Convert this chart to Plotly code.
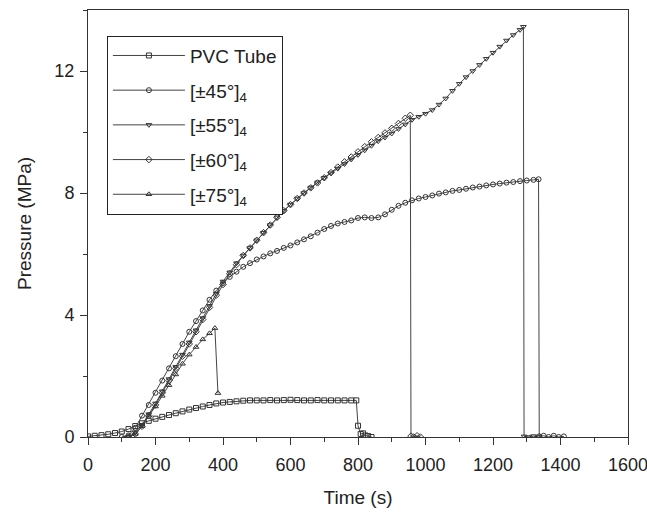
import plotly.graph_objects as go

# ---- data ----
pvc_t = [0, 20, 40, 60, 80, 100, 120, 140, 160, 180, 200, 220, 240, 260, 280, 300, 320, 340, 360, 380,
         400, 420, 440, 460, 480, 500, 520, 540, 560, 580, 600, 620, 640, 660, 680, 700, 720, 740, 760,
         780, 795, 800, 808, 815, 822, 830, 840]
pvc_p = [0.02, 0.04, 0.06, 0.09, 0.13, 0.18, 0.26, 0.36, 0.45, 0.53, 0.60, 0.66, 0.72, 0.78, 0.84, 0.90,
         0.95, 1.00, 1.05, 1.10, 1.13, 1.15, 1.17, 1.19, 1.20, 1.20, 1.20, 1.21, 1.20, 1.21, 1.22, 1.21,
         1.20, 1.20, 1.21, 1.20, 1.20, 1.20, 1.20, 1.20, 1.20, 0.37, 0.10, 0.12, 0.05, 0.03, 0.0]

p45_t = [100, 120, 140, 160, 180, 200, 220, 240, 260, 280, 300, 320, 340, 360, 380, 400, 420, 440, 460,
         480, 500, 520, 540, 560, 580, 600, 620, 640, 660, 680, 700, 720, 740, 760, 780, 800, 820, 840,
         860, 880, 900, 920, 940, 960, 980, 1000, 1020, 1040, 1060, 1080, 1100, 1120, 1140, 1160, 1180,
         1200, 1220, 1240, 1260, 1280, 1300, 1320, 1335, 1337, 1350, 1365, 1380, 1395, 1410]
p45_p = [0.0, 0.05, 0.30, 0.70, 1.05, 1.45, 1.85, 2.25, 2.65, 3.05, 3.45, 3.80, 4.15, 4.50, 4.80, 5.05,
         5.25, 5.42, 5.58, 5.70, 5.82, 5.92, 6.02, 6.10, 6.20, 6.28, 6.38, 6.48, 6.58, 6.70, 6.82, 6.92,
         7.00, 7.05, 7.10, 7.18, 7.20, 7.18, 7.20, 7.30, 7.45, 7.58, 7.68, 7.76, 7.82, 7.87, 7.92, 7.98,
         8.02, 8.07, 8.10, 8.14, 8.18, 8.21, 8.25, 8.28, 8.31, 8.34, 8.36, 8.39, 8.41, 8.43, 8.45, 0.02,
         0.04, 0.0, 0.04, 0.0, 0.02]

p55_t = [120, 140, 160, 180, 200, 220, 240, 260, 280, 300, 320, 340, 360, 380, 400, 420, 440, 460, 480,
         500, 520, 540, 560, 580, 600, 620, 640, 660, 680, 700, 720, 740, 760, 780, 800, 820, 840, 860,
         880, 900, 920, 940, 960, 980, 1000, 1020, 1040, 1060, 1080, 1100, 1120, 1140, 1160, 1180, 1200,
         1220, 1240, 1260, 1280, 1290, 1292, 1305, 1320, 1335]
p55_p = [0.0, 0.15, 0.40, 0.75, 1.10, 1.50, 1.90, 2.30, 2.70, 3.10, 3.50, 3.90, 4.30, 4.70, 5.10, 5.40,
         5.70, 5.95, 6.20, 6.45, 6.70, 6.95, 7.20, 7.42, 7.62, 7.82, 8.00, 8.18, 8.35, 8.50, 8.65, 8.80,
         8.95, 9.10, 9.25, 9.40, 9.55, 9.70, 9.82, 9.95, 10.10, 10.25, 10.40, 10.50, 10.60, 10.72, 10.90,
         11.10, 11.35, 11.58, 11.80, 12.00, 12.20, 12.40, 12.60, 12.80, 13.00, 13.18, 13.35, 13.45, 0.02,
         0.0, 0.03, 0.0]

p60_t = [120, 140, 160, 180, 200, 220, 240, 260, 280, 300, 320, 340, 360, 380, 400, 420, 440, 460, 480,
         500, 520, 540, 560, 580, 600, 620, 640, 660, 680, 700, 720, 740, 760, 780, 800, 820, 840, 860,
         880, 900, 920, 940, 955, 957, 965, 975, 985]
p60_p = [0.0, 0.10, 0.35, 0.70, 1.05, 1.45, 1.85, 2.25, 2.65, 3.05, 3.45, 3.85, 4.25, 4.65, 5.00, 5.35,
         5.65, 5.95, 6.20, 6.45, 6.70, 6.95, 7.20, 7.42, 7.62, 7.82, 8.00, 8.17, 8.33, 8.50, 8.67, 8.85,
         9.02, 9.18, 9.35, 9.52, 9.68, 9.82, 9.97, 10.12, 10.28, 10.45, 10.55, 0.03, 0.0, 0.04, 0.0]

p75_t = [120, 140, 160, 180, 200, 220, 240, 260, 280, 300, 320, 340, 360, 376, 385]
p75_p = [0.0, 0.10, 0.35, 0.70, 1.00, 1.35, 1.70, 2.05, 2.40, 2.70, 2.95, 3.20, 3.40, 3.57, 1.44]

series = [
    ("PVC Tube", pvc_t, pvc_p, "square-open"),
    ("[±45°]<sub>4</sub>", p45_t, p45_p, "circle-open"),
    ("[±55°]<sub>4</sub>", p55_t, p55_p, "triangle-down-open"),
    ("[±60°]<sub>4</sub>", p60_t, p60_p, "diamond-open"),
    ("[±75°]<sub>4</sub>", p75_t, p75_p, "triangle-up-open"),
]

x_ticks = [0, 200, 400, 600, 800, 1000, 1200, 1400, 1600]
y_ticks = [0, 4, 8, 12]

FONT = "Liberation Sans, Arial"

fig = go.Figure()
for i, (name, t, p, sym) in enumerate(series):
    fig.add_trace(go.Scatter(
        x=t, y=p, name=name, mode="lines+markers", legendgroup=f"g{i}",
        line=dict(color="#444444", width=1),
        marker=dict(symbol=sym, size=5, color="#333333", line=dict(width=1, color="#333333")),
    ))

axis_common = dict(
    showline=True, linecolor="#333333", linewidth=1, mirror=True,
    ticks="outside", ticklen=7, tickcolor="#333333", showgrid=False, zeroline=False,
    tickfont=dict(family=FONT, size=18, color="#222222"),
    minor=dict(ticks="outside", ticklen=4, tickcolor="#333333", showgrid=False),
    automargin=False, ticklabeloverflow="allow",
)

fig.update_xaxes(range=[0, 1600], tickvals=x_ticks,
                 minor_dtick=100, ticklabelstandoff=4,
                 title=dict(text="Time (s)", font=dict(family=FONT, size=19, color="#222222"),
                            standoff=17),
                 **axis_common)
fig.update_yaxes(range=[0, 14], tickvals=y_ticks,
                 minor_dtick=2, ticklabelstandoff=2,
                 title=dict(text="Pressure (MPa)", font=dict(family=FONT, size=19, color="#222222"),
                            standoff=17),
                 **axis_common)

fig.update_layout(
    width=647, height=523,
    margin=dict(l=88, r=19, t=10, b=86),
    paper_bgcolor="white", plot_bgcolor="white",
    font=dict(family=FONT, color="#222222"),
    legend=dict(x=0.035, y=0.94, xanchor="left", yanchor="top",
                bgcolor="white", bordercolor="#222222", borderwidth=1,
                font=dict(family=FONT, size=19, color="#222222"),
                itemwidth=72, tracegroupgap=7),
    showlegend=True,
)

fig.write_html("out.html")
